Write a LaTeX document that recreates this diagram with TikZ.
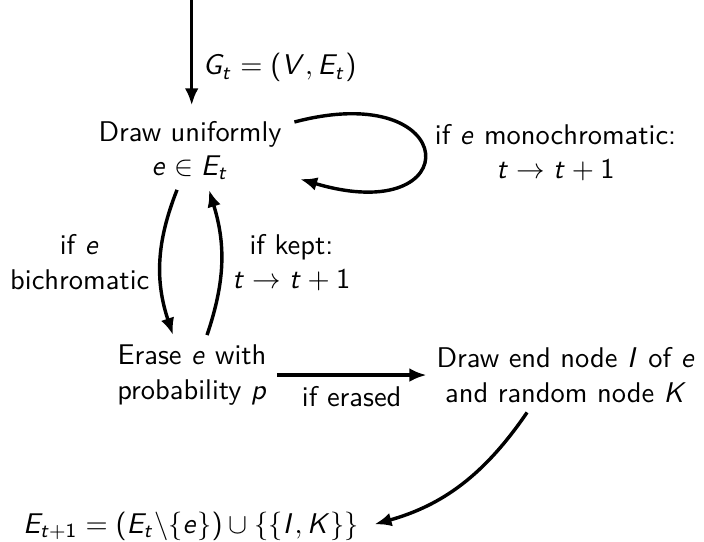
\documentclass[tikz,border=0pt]{standalone}
\usepackage{amsmath, amssymb}
\usetikzlibrary{positioning, arrows.meta}

% sans serif math: slanted sans letters, upright sans digits
\DeclareSymbolFont{sfletters}{OT1}{cmss}{m}{sl}
\SetSymbolFont{operators}{normal}{OT1}{cmss}{m}{n}
\newcount\sfmc
\sfmc=`A
\loop
  \mathcode\sfmc=\numexpr "7000+\symsfletters*"100+\sfmc\relax
  \advance\sfmc by 1
\ifnum\sfmc<`[ \repeat
\sfmc=`a
\loop
  \mathcode\sfmc=\numexpr "7000+\symsfletters*"100+\sfmc\relax
  \advance\sfmc by 1
\ifnum\sfmc<`\{ \repeat

\begin{document}
\begin{tikzpicture}[
  font=\sffamily,
  state/.style={align=center},
  lab/.style={align=center},
  arr/.style={-{Latex[length=6pt, width=4.8pt]}, line width=1.2pt}
]
  \useasboundingbox (0,0) rectangle (8.682,-6.672);

  \coordinate (in) at (2.364,0);
  \node[state] (draw)   at (2.343,-1.856) {Draw uniformly\\ $e \in E_t$};
  \node[state] (erase)  at (2.368,-4.625) {Erase $e$ with\\ probability $p$};
  \node[state] (pick)   at (6.980,-4.625) {Draw end node $I$ of $e$\\ and random node $K$};
  \node[state, anchor=base] (update) at (2.355,-6.573)
    {$E_{t+1} = (E_t\backslash\{e\}) \cup \{\{I,K\}\}$};

  % incoming graph
  \draw[arr, shorten >=2pt] (in) -- node[right, pos=.61] {$G_t = (V, E_t)$} (in |- draw.north);
  % self loop
  \draw[arr] ([shift={(1pt,10pt)}]draw.east)
    .. controls +(2.08,0.55) and +(2.08,-0.62) .. node[lab, right] {if $e$ monochromatic:\\ $t \to t+1$}
    ([shift={(3pt,-10pt)}]draw.east);
  % down and back up
  \draw[arr] ([xshift=-0.16cm]draw.south) to[bend right=20]
    node[lab, left] {if $e$\\ bichromatic} ([xshift=-0.234cm]erase.north);
  \draw[arr] ([xshift=0.185cm]erase.north) to[bend right=18]
    node[lab, right] {if kept:\\ $t \to t+1$} ([xshift=0.234cm]draw.south);
  \draw[arr] (erase) -- node[below] {if erased} (pick);
  \draw[arr, shorten >=2pt] ([xshift=-0.48cm]pick.south) to[bend left=20] (update.east);
\end{tikzpicture}
\end{document}
